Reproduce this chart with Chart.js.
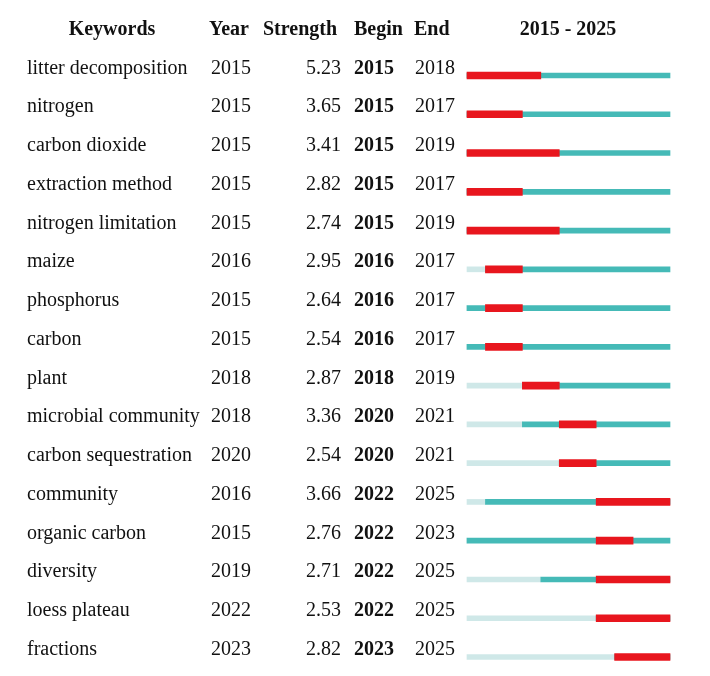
<!DOCTYPE html>
<html>
<head>
<meta charset="utf-8">
<script src="https://cdn.jsdelivr.net/npm/chart.js@4.4.1/dist/chart.umd.min.js"></script>
<style>
  body { margin: 0; background: #fff; }
  #burst { display: block; }
</style>
</head>
<body>
<canvas id="burst" width="710" height="676"></canvas>
<script>
const keywords = ['litter decomposition', 'nitrogen', 'carbon dioxide', 'extraction method',
  'nitrogen limitation', 'maize', 'phosphorus', 'carbon', 'plant', 'microbial community',
  'carbon sequestration', 'community', 'organic carbon', 'diversity', 'loess plateau', 'fractions']
const years = [2015, 2015, 2015, 2015, 2015, 2016, 2015, 2015, 2018, 2018, 2020, 2016, 2015, 2019, 2022, 2023]
const strengths = [5.23, 3.65, 3.41, 2.82, 2.74, 2.95, 2.64, 2.54, 2.87, 3.36, 2.54, 3.66, 2.76, 2.71, 2.53, 2.82]
const begins = [2015, 2015, 2015, 2015, 2015, 2016, 2016, 2016, 2018, 2020, 2020, 2022, 2022, 2022, 2022, 2023]
const ends = [2018, 2017, 2019, 2017, 2019, 2017, 2017, 2017, 2019, 2021, 2021, 2025, 2023, 2025, 2025, 2025]
const firstYear = 2015
const lastYear = 2025

// light segment before the keyword shows up, teal after, red for the burst
const before = years.map(y => [firstYear, y])
const after = years.map(y => [y, lastYear + 1])
const burst = begins.map((b, i) => [b, ends[i] + 1])

const SERIF = '"Liberation Serif", "Times New Roman", serif'

const tableText = {
  id: 'tableText',
  afterDraw(chart) {
    const ctx = chart.ctx
    const yScale = chart.scales.y
    ctx.save()
    ctx.fillStyle = '#111'
    ctx.textBaseline = 'alphabetic'

    // header
    ctx.font = 'bold 20px ' + SERIF
    ctx.textAlign = 'center'
    ctx.fillText('Keywords', 112, 35)
    ctx.fillText(firstYear + ' - ' + lastYear, 568, 35)
    ctx.textAlign = 'left'
    ctx.fillText('Year', 209, 35)
    ctx.fillText('Strength', 263, 35)
    ctx.fillText('Begin', 354, 35)
    ctx.fillText('End', 414, 35)

    keywords.forEach((k, i) => {
      const y = yScale.getPixelForValue(i) - 2
      ctx.font = '20px ' + SERIF
      ctx.textAlign = 'left'
      ctx.fillText(k, 27, y)
      ctx.fillText(String(years[i]), 211, y)
      ctx.fillText(String(ends[i]), 415, y)
      ctx.textAlign = 'right'
      ctx.fillText(strengths[i].toFixed(2), 341, y)
      ctx.font = 'bold 20px ' + SERIF
      ctx.textAlign = 'left'
      ctx.fillText(String(begins[i]), 354, y)
    })
    ctx.restore()
  }
}

const ctx = document.getElementById('burst')
new Chart(ctx, {
  type: 'bar',
  data: {
    labels: keywords,
    datasets: [
      { data: before, backgroundColor: '#CFE8E8', barThickness: 5, grouped: false, order: 3, clip: false },
      { data: after, backgroundColor: '#45BAB7', barThickness: 5, grouped: false, order: 2, clip: false },
      { data: burst, backgroundColor: '#E8161E', barThickness: 7, grouped: false, order: 1, clip: false }
    ]
  },
  options: {
    indexAxis: 'y',
    responsive: false,
    animation: false,
    layout: { padding: { left: 467, right: 40, top: 75.5, bottom: 19 } },
    plugins: { legend: { display: false }, tooltip: { enabled: false } },
    scales: {
      x: { type: 'linear', min: firstYear, max: lastYear + 1, display: false },
      y: { type: 'category', offset: false, display: false }
    }
  },
  plugins: [tableText]
})
</script>
</body>
</html>
